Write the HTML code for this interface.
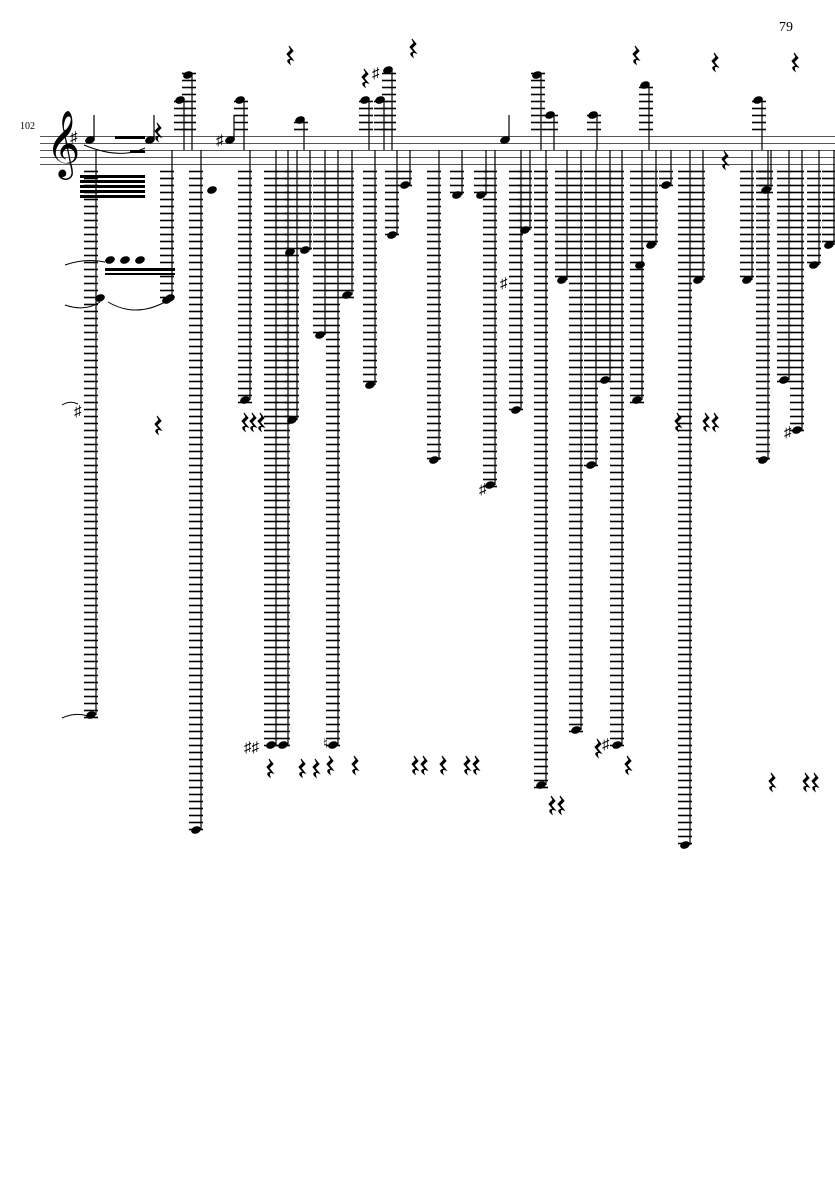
<!DOCTYPE html><html><head><meta charset="utf-8"><style>body{margin:0;background:#fff}svg{display:block}</style></head><body>
<svg id="s" width="835" height="1181" xmlns="http://www.w3.org/2000/svg" font-family="Liberation Serif, serif">
<text x="779" y="31" font-size="14">79</text>
<text x="20" y="129" font-size="10">102</text>
<g stroke="#555" stroke-width="1"><line x1="40" y1="136.5" x2="835" y2="136.5"/><line x1="40" y1="143.5" x2="835" y2="143.5"/><line x1="40" y1="150.5" x2="835" y2="150.5"/><line x1="40" y1="157.5" x2="835" y2="157.5"/><line x1="40" y1="164.5" x2="835" y2="164.5"/></g>
<text x="46" y="163" font-size="58" font-family="DejaVu Sans, sans-serif">𝄞</text>
<g id="g"></g>
<text x="70" y="142" font-size="15">♯</text>
<text x="216" y="145" font-size="15">♯</text>
<text x="372" y="78" font-size="15">♯</text>
<text x="500" y="288" font-size="15">♯</text>
<text x="479" y="494" font-size="15">♯</text>
<text x="74" y="416" font-size="15">♯</text>
<text x="244" y="752" font-size="15">♯♯</text>
<text x="323" y="748" font-size="14">♮</text>
<text x="602" y="749" font-size="15">♯</text>
<text x="784" y="437" font-size="15">♯</text>
<g fill="none" stroke="#000" stroke-width="1"><path d="M65 265 Q85 258 105 262"/><path d="M65 305 Q85 312 100 302"/><path d="M108 302 Q135 318 165 302"/><path d="M62 405 Q70 400 78 404"/><path d="M62 718 Q75 712 88 716"/><path d="M84 145 Q120 160 145 148"/></g>
<g fill="#000"><rect x="80" y="175" width="65" height="3"/><rect x="80" y="180" width="65" height="3"/><rect x="80" y="185" width="65" height="3"/><rect x="80" y="190" width="65" height="3"/><rect x="80" y="195" width="65" height="3"/><rect x="105" y="268" width="70" height="3"/><rect x="105" y="273" width="70" height="2"/><rect x="115" y="136" width="30" height="3"/><rect x="130" y="150" width="15" height="3"/></g>
</svg>
<script>
var g=document.getElementById('g'),h='';
function L(x1,y1,x2,y2,w){h+='<line x1="'+x1+'" y1="'+y1+'" x2="'+x2+'" y2="'+y2+'" stroke="#000" stroke-width="'+(w||1)+'"/>';}
function N(x,y){h+='<ellipse cx="'+x+'" cy="'+y+'" rx="5" ry="3.6" transform="rotate(-20 '+x+' '+y+')" fill="#000"/>';}
function R(x,y){h+='<path d="M'+(x-1)+' '+(y-9)+' l4 5 l-4 4 l4 5 q-5 -2 -3 4 q-5 -4 1 -5 l-4 -5 l4 -4 z" fill="#000" stroke="#000" stroke-width="1"/>';}
var cols=[[91,715],[167,300],[196,830],[245,400],[271,745],[283,745],[292,420],[305,250],[320,335],[333,745],[347,295],[370,385],[392,235],[405,185],[434,460],[457,195],[481,195],[490,485],[516,410],[525,230],[541,785],[562,280],[576,730],[591,465],[605,380],[617,745],[637,400],[651,245],[666,185],[685,845],[698,280],[747,280],[763,460],[766,190],[784,380],[797,430],[814,265],[829,245]];
cols.forEach(function(c){var x=c[0],b=c[1];for(var y=171;y<=b+2;y+=7)L(x-7,y+.5,x+7,y+.5,1.6);L(x+5,150,x+5,b,1.2);N(x,b);});
var up=[[180,100],[188,75],[240,100],[300,120],[365,100],[380,100],[388,70],[537,75],[550,115],[593,115],[645,85],[758,100]];
up.forEach(function(c){var x=c[0],t=c[1];for(var y=129;y>=t-2;y-=7)L(x-6,y+.5,x+8,y+.5,1.6);L(x+4,t,x+4,150,1.2);N(x,t);});
[[90,140],[150,140],[230,140],[505,140]].forEach(function(c){N(c[0],c[1]);L(c[0]+4,c[1],c[0]+4,c[1]-25,1.2)});
[[110,260],[125,260],[140,260],[100,298],[170,298],[212,190],[290,252],[640,265]].forEach(function(c){N(c[0],c[1])});
[[290,55],[413,48],[636,55],[715,62],[795,62],[365,78],[158,132],[158,425],[245,422],[253,422],[261,422],[270,768],[302,768],[316,768],[330,765],[355,765],[415,765],[424,765],[443,765],[467,765],[476,765],[552,805],[561,805],[628,765],[598,748],[678,422],[706,422],[715,422],[725,160],[772,782],[806,782],[815,782]].forEach(function(c){R(c[0],c[1])});
g.innerHTML=h;
</script>
</body></html>
